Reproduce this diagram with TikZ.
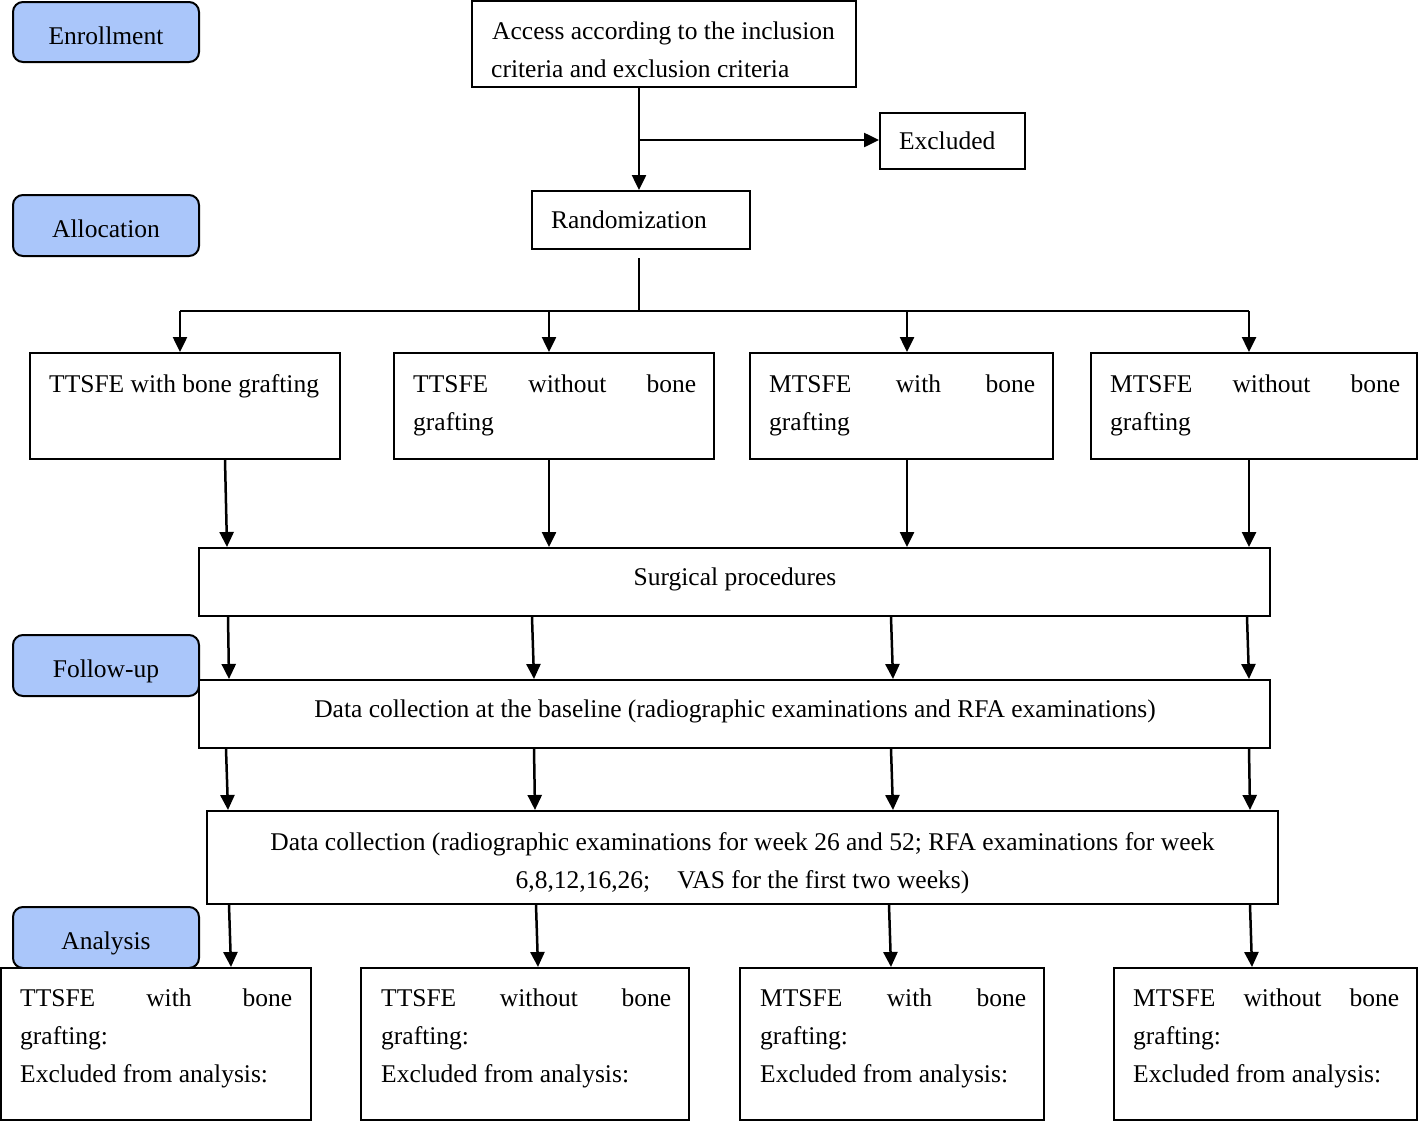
\documentclass[tikz,border=0pt]{standalone}
\usepackage{fontspec}
\setmainfont{Liberation Serif}
\usetikzlibrary{arrows.meta,calc}
\definecolor{sideblue}{RGB}{170,198,250}
\newcommand\mainsize{\fontsize{25.5}{38}\selectfont}
\newcommand\link[4]{\draw[arrw] (#1.south -| #2,0) -- (#3.north -| #4,0);}
\tikzset{
  plainbox/.style={draw=black, line width=2pt, fill=white, inner sep=0pt, font=\mainsize},
  sidebox/.style={draw=black, line width=2pt, fill=sideblue, rounded corners=10pt, inner sep=0pt,
    minimum width=186pt, minimum height=60pt, font=\mainsize, text height=24pt, text depth=0pt},
  arrw/.style={line width=2.5pt, -{Triangle[length=15pt,width=14pt]}},
  plainln/.style={line width=2.5pt},
  thinln/.style={line width=1.5pt},
  txtline/.style={anchor=base west, inner sep=0pt, font=\mainsize}
}
\begin{document}
\begin{tikzpicture}[x=1pt,y=-1pt]
\useasboundingbox (0,0) rectangle (1419,1122);
% side labels
\node[sidebox] (enr) at (106,32) {Enrollment};
\node[sidebox, minimum height=61pt] (alloc) at (106,225.5) {Allocation};
\node[sidebox, minimum height=61pt] (fol) at (106,665.5) {Follow-up};
\node[sidebox, minimum height=61pt] (ana) at (106,937.5) {Analysis};
% top
\node[plainbox, minimum width=384pt, minimum height=86pt] (acc) at (664,44) {};
\node[txtline] (acc1) at (492,39) {Access according to the inclusion};
\node[txtline] (acc2) at (491,77) {criteria and exclusion criteria};
\node[plainbox, minimum width=145pt, minimum height=56pt, text width=107pt, inner xsep=19pt, align=left] (excl) at (952.5,141) {Excluded};
\node[plainbox, minimum width=218pt, minimum height=58pt, text width=180pt, inner xsep=19pt, align=left] (rand) at (641,220) {Randomization};
% group boxes
\node[plainbox, minimum width=310pt, minimum height=106pt] (b1) at (185,406) {};
\node[plainbox, minimum width=320pt, minimum height=106pt] (b2) at (554,406) {};
\node[plainbox, minimum width=303pt, minimum height=106pt] (b3) at (901.5,406) {};
\node[plainbox, minimum width=326pt, minimum height=106pt] (b4) at (1254,406) {};
\node[txtline] (b1a) at (49,392) {TTSFE with bone grafting};
\node[txtline] (b2a) at (413,392) {\makebox[283pt][s]{TTSFE without bone}};
\node[txtline] (b2b) at (413,430) {grafting};
\node[txtline] (b3a) at (769,392) {\makebox[266pt][s]{MTSFE with bone}};
\node[txtline] (b3b) at (769,430) {grafting};
\node[txtline] (b4a) at (1110,392) {\makebox[290pt][s]{MTSFE without bone}};
\node[txtline] (b4b) at (1110,430) {grafting};
% wide boxes
\node[plainbox, minimum width=1071pt, minimum height=68pt] (surg) at (734.5,582) {};
\node[font=\mainsize, inner sep=0pt] (surgt) at (735,579) {Surgical procedures};
\node[plainbox, minimum width=1071pt, minimum height=68pt] (base) at (734.5,714) {};
\node[font=\mainsize, inner sep=0pt] (baset) at (735,711) {Data collection at the baseline (radiographic examinations and RFA examinations)};
\node[plainbox, minimum width=1071pt, minimum height=93pt] (dc) at (742.5,857.5) {};
\node[font=\mainsize, inner sep=0pt, align=center] (dct) at (742.5,863.5)
  {Data collection (radiographic examinations for week 26 and 52; RFA examinations for week\\6,8,12,16,26;\hspace{27pt}VAS for the first two weeks)};
% final boxes
\node[plainbox, minimum width=310pt, minimum height=152pt] (f1) at (156,1044) {};
\node[plainbox, minimum width=328pt, minimum height=152pt] (f2) at (525,1044) {};
\node[plainbox, minimum width=304pt, minimum height=152pt] (f3) at (892,1044) {};
\node[plainbox, minimum width=303pt, minimum height=152pt] (f4) at (1265.5,1044) {};
\node[txtline] (f1a) at (20,1006) {\makebox[272pt][s]{TTSFE with bone}};
\node[txtline] (f1b) at (20,1044) {grafting:};
\node[txtline] (f1c) at (20,1082) {Excluded from analysis:};
\node[txtline] (f2a) at (381,1006) {\makebox[290pt][s]{TTSFE without bone}};
\node[txtline] (f2b) at (381,1044) {grafting:};
\node[txtline] (f2c) at (381,1082) {Excluded from analysis:};
\node[txtline] (f3a) at (760,1006) {\makebox[266pt][s]{MTSFE with bone}};
\node[txtline] (f3b) at (760,1044) {grafting:};
\node[txtline] (f3c) at (760,1082) {Excluded from analysis:};
\node[txtline] (f4a) at (1133,1006) {\makebox[266pt][s]{MTSFE without bone}};
\node[txtline] (f4b) at (1133,1044) {grafting:};
\node[txtline] (f4c) at (1133,1082) {Excluded from analysis:};
% connectors top
\draw[arrw] (acc.south -| 639,0) -- (rand.north -| 639,0);
\coordinate (j1) at (639,140);
\draw[arrw] (j1) -- (j1 -| excl.west);
\coordinate (split) at (639,311);
\draw[thinln] ([yshift=-8pt]rand.south -| 639,0) -- (split);
\coordinate (h1) at (180,311);
\coordinate (h2) at (549,311);
\coordinate (h3) at (907,311);
\coordinate (h4) at (1249,311);
\draw[plainln] (h1) -- (h4);
\draw[arrw] (h1) -- (h1 |- b1.north);
\draw[arrw] (h2) -- (h2 |- b2.north);
\draw[arrw] (h3) -- (h3 |- b3.north);
\draw[arrw] (h4) -- (h4 |- b4.north);
% groups to surgical
\link{b1}{225}{surg}{227}
\link{b2}{549}{surg}{549}
\link{b3}{907}{surg}{907}
\link{b4}{1249}{surg}{1249}
% surgical to baseline
\link{surg}{228}{base}{229}
\link{surg}{532}{base}{534}
\link{surg}{891}{base}{893}
\link{surg}{1247}{base}{1249}
% baseline to data collection
\link{base}{226}{dc}{228}
\link{base}{534}{dc}{535}
\link{base}{891}{dc}{893}
\link{base}{1249}{dc}{1250}
% data collection to final
\link{dc}{229}{f1}{231}
\link{dc}{536}{f2}{538}
\link{dc}{889}{f3}{891}
\link{dc}{1250}{f4}{1252}
\end{tikzpicture}
\end{document}
